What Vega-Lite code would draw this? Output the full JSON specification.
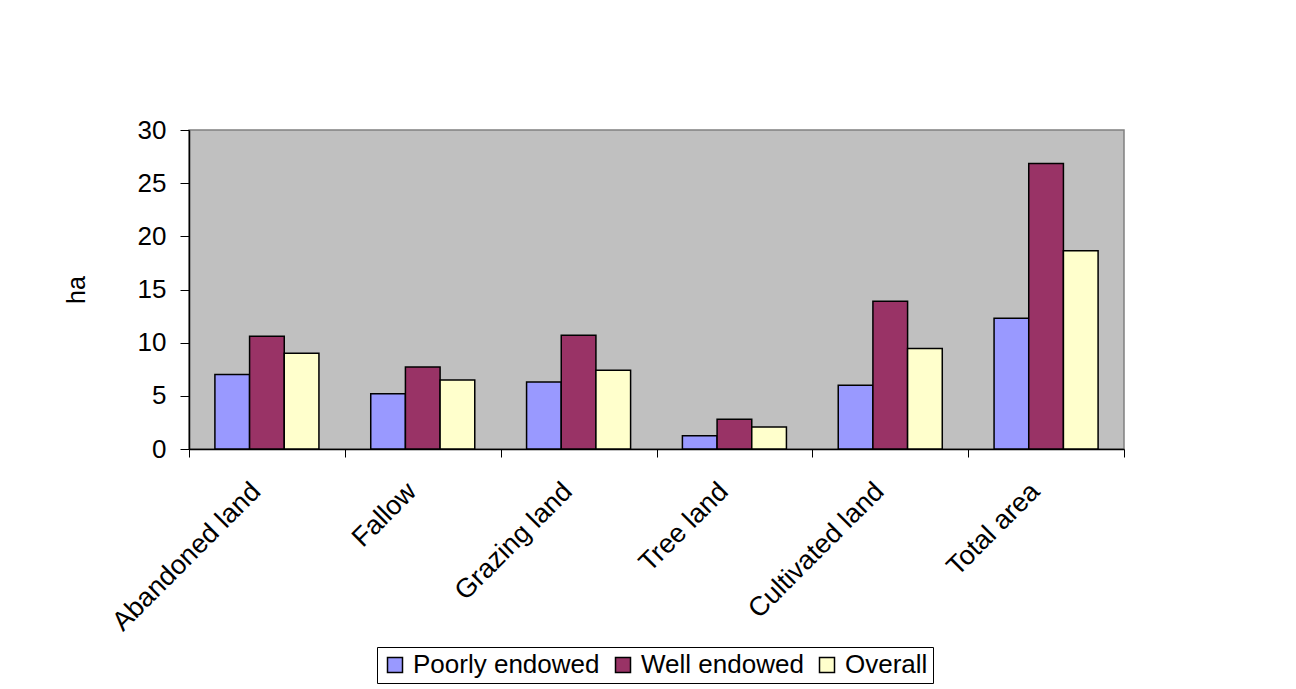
{
  "$schema": "https://vega.github.io/schema/vega-lite/v6.json",
  "width": 935,
  "height": 319,
  "autosize": "none",
  "padding": {"left": 189, "top": 130, "right": 172, "bottom": 240},
  "background": "white",
  "data": {
    "values": [
      {"category": "Abandoned land", "series": "Poorly endowed", "ha": 7.0},
      {"category": "Abandoned land", "series": "Well endowed", "ha": 10.6},
      {"category": "Abandoned land", "series": "Overall", "ha": 9.0},
      {"category": "Fallow", "series": "Poorly endowed", "ha": 5.2},
      {"category": "Fallow", "series": "Well endowed", "ha": 7.7},
      {"category": "Fallow", "series": "Overall", "ha": 6.5},
      {"category": "Grazing land", "series": "Poorly endowed", "ha": 6.3},
      {"category": "Grazing land", "series": "Well endowed", "ha": 10.7},
      {"category": "Grazing land", "series": "Overall", "ha": 7.4},
      {"category": "Tree land", "series": "Poorly endowed", "ha": 1.25},
      {"category": "Tree land", "series": "Well endowed", "ha": 2.8},
      {"category": "Tree land", "series": "Overall", "ha": 2.07},
      {"category": "Cultivated land", "series": "Poorly endowed", "ha": 6.0},
      {"category": "Cultivated land", "series": "Well endowed", "ha": 13.9},
      {"category": "Cultivated land", "series": "Overall", "ha": 9.45},
      {"category": "Total area", "series": "Poorly endowed", "ha": 12.3},
      {"category": "Total area", "series": "Well endowed", "ha": 26.85},
      {"category": "Total area", "series": "Overall", "ha": 18.65}
    ]
  },
  "mark": {"type": "bar", "stroke": "black", "strokeWidth": 1.5},
  "encoding": {
    "x": {
      "field": "category",
      "type": "nominal",
      "sort": null,
      "scale": {"paddingInner": 0, "paddingOuter": 0},
      "axis": {
        "title": null,
        "labelAngle": -45,
        "labelAlign": "right",
        "labelBaseline": "middle",
        "labelFontSize": 27,
        "labelFont": "Liberation Sans",
        "labelColor": "black",
        "labelPadding": 30,
        "labelOffset": -11,
        "tickBand": "extent",
        "tickSize": 8,
        "tickColor": "black",
        "domainColor": "black",
        "domainWidth": 1.5,
        "labelLimit": 400
      }
    },
    "xOffset": {
      "field": "series",
      "type": "nominal",
      "sort": ["Poorly endowed", "Well endowed", "Overall"],
      "scale": {"paddingInner": 0, "paddingOuter": 0.747}
    },
    "y": {
      "field": "ha",
      "type": "quantitative",
      "scale": {"domain": [0, 30], "nice": false},
      "axis": {
        "title": "ha",
        "titleFont": "Liberation Sans",
        "titleFontSize": 25,
        "titleFontWeight": "normal",
        "titleColor": "black",
        "titlePadding": 48,
        "values": [0, 5, 10, 15, 20, 25, 30],
        "labelFontSize": 26,
        "labelFont": "Liberation Sans",
        "labelColor": "black",
        "labelPadding": 14,
        "tickSize": 9,
        "tickColor": "black",
        "domainColor": "black",
        "domainWidth": 1.5,
        "grid": false
      }
    },
    "color": {
      "field": "series",
      "type": "nominal",
      "sort": ["Poorly endowed", "Well endowed", "Overall"],
      "scale": {
        "domain": ["Poorly endowed", "Well endowed", "Overall"],
        "range": ["#9999FF", "#993366", "#FFFFCC"]
      },
      "legend": {
        "title": null,
        "orient": "none",
        "direction": "horizontal",
        "legendX": 188,
        "legendY": 517,
        "symbolType": "square",
        "symbolSize": 225,
        "symbolStrokeColor": "black",
        "symbolStrokeWidth": 1.5,
        "symbolOpacity": 1,
        "labelFont": "Liberation Sans",
        "labelFontSize": 26,
        "labelLimit": 400,
        "labelColor": "black",
        "labelOffset": 5,
        "columnPadding": 10,
        "strokeColor": "black",
        "padding": 5
      }
    }
  },
  "config": {
    "view": {"fill": "#C0C0C0", "stroke": "#808080", "strokeWidth": 1.5}
  }
}
